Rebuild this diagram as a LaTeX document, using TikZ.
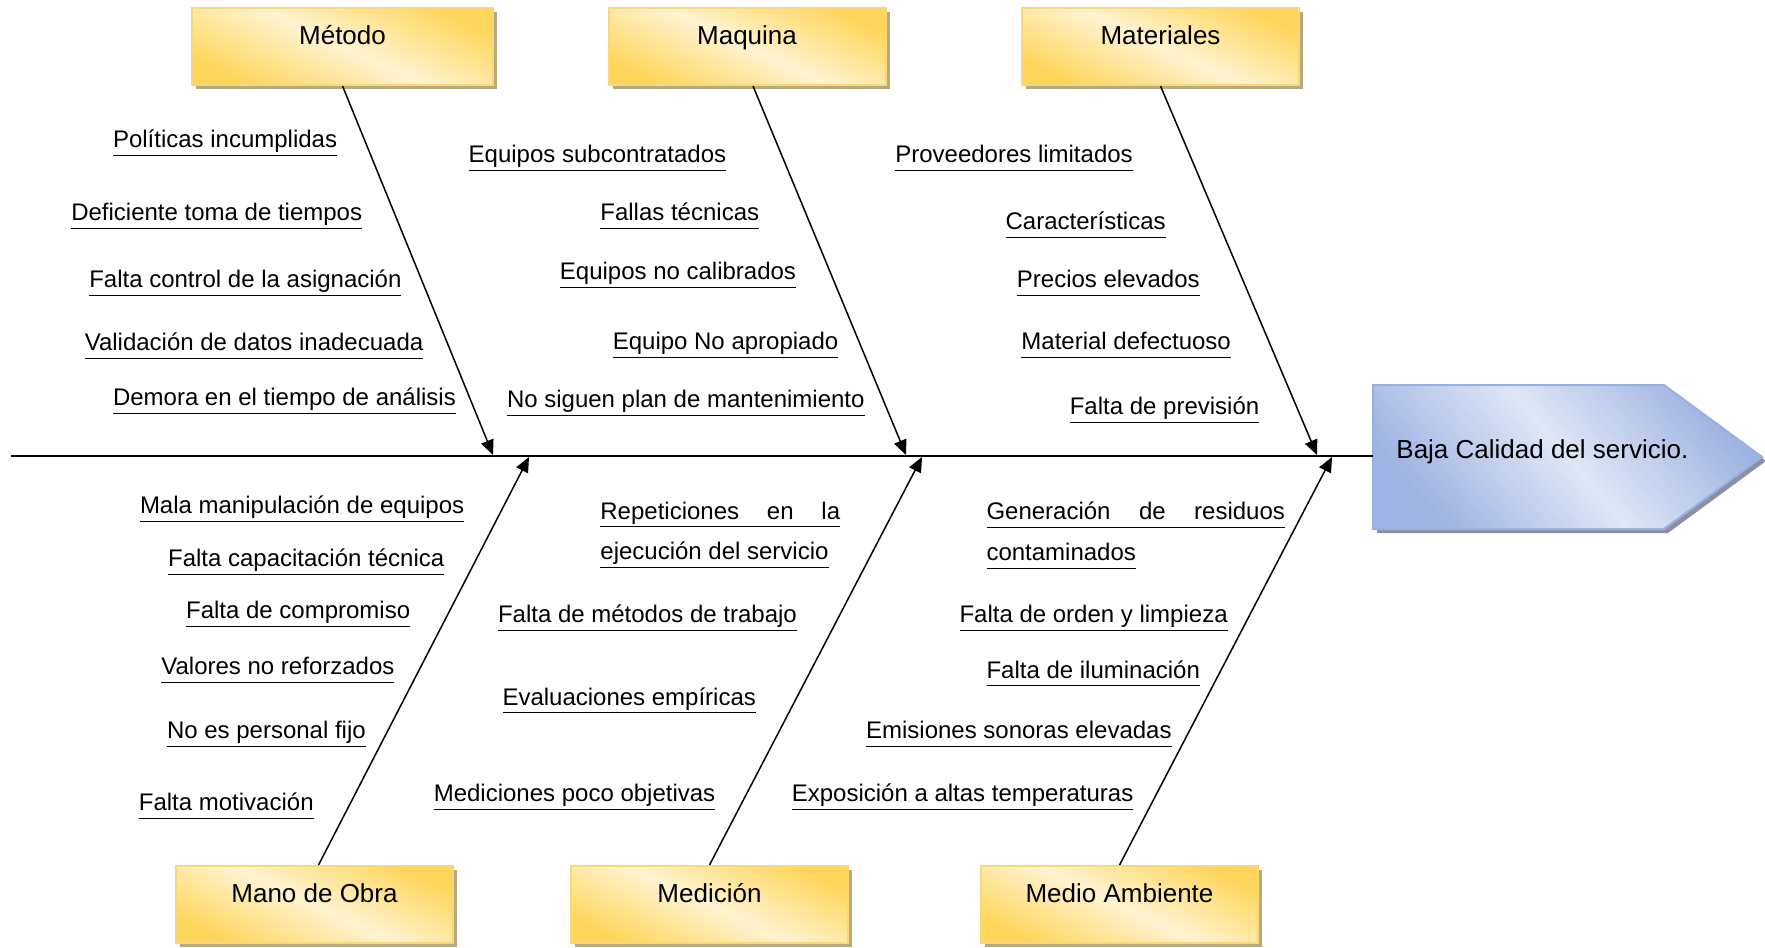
\documentclass[tikz,border=0pt]{standalone}
\usepackage{fontspec}
\setmainfont{Liberation Sans}
\usetikzlibrary{arrows.meta,shadows}
\definecolor{ygold}{HTML}{FFD65C}
\definecolor{ylight}{HTML}{FFF3D1}
\definecolor{yedge}{HTML}{F8D878}
\definecolor{yshadow}{HTML}{B5AA80}
\definecolor{bdark}{HTML}{9FB3E2}
\definecolor{blight}{HTML}{DFE6F5}
\definecolor{bedge}{HTML}{97B0E0}
\definecolor{bshadow}{HTML}{8D8FA0}
\newcommand{\cu}[1]{\underline{\vphantom{gjp}#1}}
\tikzset{
  cat/.style={draw=yedge, line width=1pt, top color=ygold, bottom color=ygold,
    middle color=ylight, shading angle=-25, minimum width=138.5pt,
    minimum height=38.5pt, inner sep=0pt, font=\fontsize{13}{15}\selectfont,
    text height=9pt, text depth=11pt,
    drop shadow={shadow xshift=2pt, shadow yshift=-2pt, fill=yshadow, opacity=1}},
  cause/.style={anchor=west, inner sep=0pt, yshift=-2.5pt, font=\fontsize{12}{14}\selectfont},
  bone/.style={line width=0.75pt, -{Triangle[length=7.5pt,width=6.5pt]}}
}

\begin{document}
\begin{tikzpicture}[x=0.5pt,y=-0.5pt]
  \useasboundingbox (0,0) rectangle (1765,947);
  % head
  \path[draw=bedge, line width=1pt, top color=bdark, bottom color=bdark,
    middle color=blight, shading angle=-50,
    drop shadow={shadow xshift=2pt, shadow yshift=-2pt, fill=bshadow, opacity=1}]
    (1373,385) -- (1664,385) -- (1762,457) -- (1664,529) -- (1373,529) -- cycle;
  \coordinate (headW) at (1373,456);
  \node[anchor=west, inner sep=0pt, font=\fontsize{13}{15}\selectfont] (head) at (1396,452) {Baja Calidad del servicio.};
  \coordinate (tail) at (11,456);
  \draw[line width=1pt] (tail) -- (headW);
  % categories
  \node[cat, minimum width=150.5pt] (metodo) at (342.5,46.5) {Método};
  \node[cat] (maquina) at (747,46.5) {Maquina};
  \node[cat] (materiales) at (1160.5,46.5) {Materiales};
  \node[cat] (mano) at (314.5,904.5) {Mano de Obra};
  \node[cat] (medicion) at (709.5,904.5) {Medición};
  \node[cat] (medio) at (1119.5,904.5) {Medio Ambiente};
  % tips on the spine
  \coordinate (T1) at (493,455);
  \coordinate (T2) at (906,455);
  \coordinate (T3) at (1317,455);
  \coordinate (B1) at (529,457);
  \coordinate (B2) at (922,457);
  \coordinate (B3) at (1332,457);
  \draw[bone] (metodo.south) -- (T1);
  \draw[bone] ([xshift=3pt]maquina.south) -- (T2);
  \draw[bone] (materiales.south) -- (T3);
  \draw[bone] ([xshift=2pt]mano.north) -- (B1);
  \draw[bone] (medicion.north) -- (B2);
  \draw[bone] (medio.north) -- (B3);
  % Metodo
  \node[cause] (met1) at (112.6,138.5) {\cu{Políticas incumplidas}};
  \node[cause] (met2) at (70.9,211.6) {\cu{Deficiente toma de tiempos}};
  \node[cause] (met3) at (88.9,278) {\cu{Falta control de la asignación}};
  \node[cause] (met4) at (84.4,341.1) {\cu{Validación de datos inadecuada}};
  \node[cause] (met5) at (112.6,396.2) {\cu{Demora en el tiempo de análisis}};
  % Maquina
  \node[cause] (maq1) at (468.3,153.1) {\cu{Equipos subcontratados}};
  \node[cause] (maq2) at (600,211.6) {\cu{Fallas técnicas}};
  \node[cause] (maq3) at (559.5,270.2) {\cu{Equipos no calibrados}};
  \node[cause] (maq4) at (612.4,340) {\cu{Equipo No apropiado}};
  \node[cause] (maq5) at (506.6,398.5) {\cu{No siguen plan de mantenimiento}};
  % Materiales
  \node[cause] (mat1) at (894.9,153.1) {\cu{Proveedores limitados}};
  \node[cause] (mat2) at (1005.2,220.6) {\cu{Características}};
  \node[cause] (mat3) at (1016.5,278) {\cu{Precios elevados}};
  \node[cause] (mat4) at (1021,340) {\cu{Material defectuoso}};
  \node[cause] (mat5) at (1069.4,405.3) {\cu{Falta de previsión}};
  % Mano de Obra
  \node[cause] (man1) at (139.6,504.3) {\cu{Mala manipulación de equipos}};
  \node[cause] (man2) at (167.7,557.2) {\cu{Falta capacitación técnica}};
  \node[cause] (man3) at (185.7,609) {\cu{Falta de compromiso}};
  \node[cause] (man4) at (161,665.3) {\cu{Valores no reforzados}};
  \node[cause] (man5) at (166.6,729.5) {\cu{No es personal fijo}};
  \node[cause] (man6) at (138.5,801.5) {\cu{Falta motivación}};
  % Medicion
  \node[cause] (med1) at (600,509.9) {\cu{\makebox[119.9pt][s]{Repeticiones en la}}};
  \node[cause] (med1b) at (600,550.5) {\cu{ejecución del servicio}};
  \node[cause] (med2) at (497.6,613.5) {\cu{Falta de métodos de trabajo}};
  \node[cause] (med3) at (502.1,695.7) {\cu{Evaluaciones empíricas}};
  \node[cause] (med4) at (433.4,792.5) {\cu{Mediciones poco objetivas}};
  % Medio Ambiente
  \node[cause] (amb1) at (986.1,509.9) {\cu{\makebox[149.2pt][s]{Generación de residuos}}};
  \node[cause] (amb1b) at (986.1,551.6) {\cu{contaminados}};
  \node[cause] (amb2) at (959.1,613.5) {\cu{Falta de orden y limpieza}};
  \node[cause] (amb3) at (986.1,668.7) {\cu{Falta de iluminación}};
  \node[cause] (amb4) at (865.7,729.5) {\cu{Emisiones sonoras elevadas}};
  \node[cause] (amb5) at (791.4,792.5) {\cu{Exposición a altas temperaturas}};
\end{tikzpicture}
\end{document}
